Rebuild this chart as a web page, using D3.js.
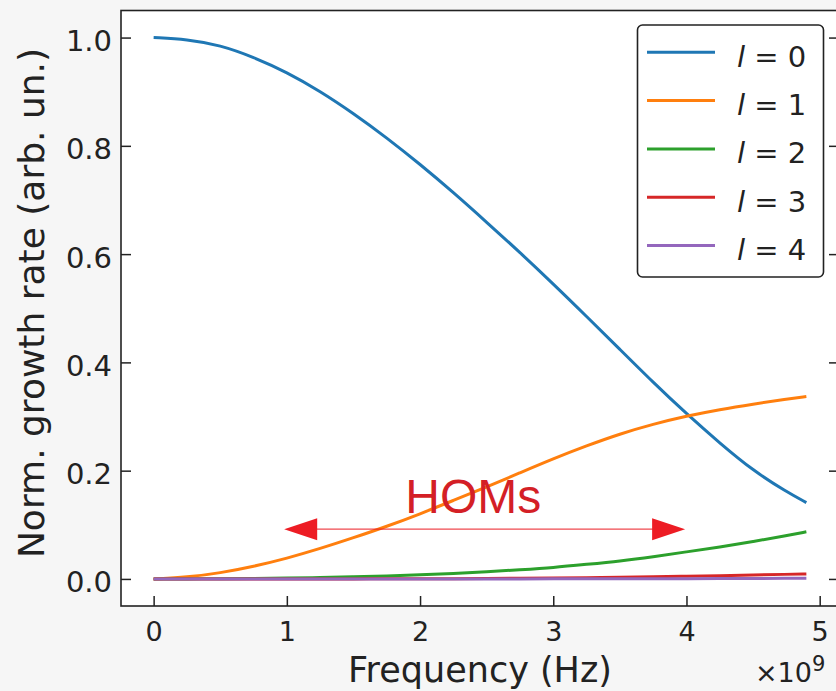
<html>
    <script src="https://d3js.org/d3.v7.min.js"></script>
    <body style="margin:0; background:#f6f6f6;">
    </body>
    <script>
        // frequency in units of 1e9 Hz
        const freq = [0, 0.25, 0.5, 0.75, 1, 1.25, 1.5, 1.75, 2, 2.25, 2.5, 2.75, 3, 3.25, 3.5, 3.75, 4, 4.25, 4.5, 4.75, 4.9];
        const l0 = [1.000, 0.997, 0.986, 0.964, 0.936, 0.901, 0.860, 0.815, 0.766, 0.714, 0.659, 0.603, 0.545, 0.485, 0.424, 0.363, 0.305, 0.251, 0.200, 0.161, 0.141];
        const l1 = [0, 0.003, 0.011, 0.023, 0.038, 0.056, 0.076, 0.097, 0.120, 0.145, 0.170, 0.196, 0.222, 0.246, 0.268, 0.286, 0.301, 0.313, 0.323, 0.332, 0.337];
        const l2 = [0, 0, 0.0003, 0.0008, 0.0015, 0.0025, 0.004, 0.0055, 0.0075, 0.010, 0.013, 0.017, 0.021, 0.027, 0.033, 0.041, 0.050, 0.059, 0.069, 0.080, 0.087];
        const l3 = [0, 0, 0, 0, 0, 0, 0.0001, 0.0002, 0.0003, 0.0005, 0.0008, 0.0012, 0.0017, 0.0023, 0.003, 0.0039, 0.005, 0.006, 0.0072, 0.0085, 0.0093];
        const l4 = [0, 0, 0, 0, 0, 0, 0, 0, 0, 0, 0, 0.0001, 0.0001, 0.0002, 0.0003, 0.0004, 0.0005, 0.0007, 0.0009, 0.0012, 0.0014];
        const modes = [0, 1, 2, 3, 4];
        const series = [l0, l1, l2, l3, l4];
        const xTicks = [0, 1, 2, 3, 4, 5];
        const yTicks = [0.0, 0.2, 0.4, 0.6, 0.8, 1.0];
        // HOMs annotation: arrow span and level
        const homSpan = [0.98, 3.99];
        const homLevel = 0.092;
        const homLabel = {text: "HOMs", x: 2.4, y: 0.122};

        const colors = ["#1f77b4", "#ff7f0e", "#2ca02c", "#d62728", "#9467bd"];
        let width = 836;
        let height = 691;
        let m = {left: 121, right: 839, top: 10.5, bottom: 606};

        let svg = d3.select("body").append("svg")
            .attr("width", width)
            .attr("height", height)
            .style("font-family", "'DejaVu Sans', sans-serif");

        svg.append("rect").attr("width", width).attr("height", height).attr("fill", "#f6f6f6");
        svg.append("rect")
            .attr("x", m.left).attr("y", m.top)
            .attr("width", m.right - m.left).attr("height", m.bottom - m.top)
            .attr("fill", "white");

        let x = d3.scaleLinear().domain([-0.245, 5.145]).range([m.left, m.right]);
        let y = d3.scaleLinear().domain([-0.05, 1.05]).range([m.bottom, m.top]);

        // axes, ticks pointing inward
        let gx = svg.append("g")
            .attr("transform", `translate(0,${m.bottom})`)
            .call(d3.axisBottom(x).tickValues(xTicks).tickFormat(d3.format("d")).tickSize(-10).tickPadding(16));
        let gy = svg.append("g")
            .attr("transform", `translate(${m.left},0)`)
            .call(d3.axisLeft(y).tickValues(yTicks).tickFormat(d3.format(".1f")).tickSize(-10).tickPadding(9));
        let gr = svg.append("g")
            .attr("transform", `translate(${m.right},0)`)
            .call(d3.axisRight(y).tickValues(yTicks).tickFormat("").tickSize(-10));
        [gx, gy, gr].forEach(g => {
            g.select(".domain").remove();
            g.selectAll("line").attr("stroke", "#222").attr("stroke-width", 1.5);
            g.selectAll("text").attr("fill", "#222").style("font-family", "'DejaVu Sans', sans-serif");
        });
        gx.selectAll("text").style("font-size", "27px");
        gy.selectAll("text").style("font-size", "29px").attr("dy", "0.45em");

        // curves
        let line = d3.line()
            .x((d, i) => x(freq[i]))
            .y(d => y(d))
            .curve(d3.curveBasis);
        svg.selectAll(".curve")
            .data(series)
            .join("path")
            .attr("class", "curve")
            .attr("d", line)
            .attr("fill", "none")
            .attr("stroke", (_, i) => colors[i])
            .attr("stroke-width", 3);

        // frame
        svg.append("rect")
            .attr("x", m.left).attr("y", m.top)
            .attr("width", m.right - m.left).attr("height", m.bottom - m.top)
            .attr("fill", "none")
            .attr("stroke", "#222")
            .attr("stroke-width", 1.6);

        // HOMs annotation
        let red = "#ed1c24";
        let ay = y(homLevel);
        let ax1 = x(homSpan[0]), ax2 = x(homSpan[1]);
        svg.append("line")
            .attr("x1", ax1 + 20).attr("x2", ax2 - 20)
            .attr("y1", ay).attr("y2", ay)
            .attr("stroke", red).attr("stroke-width", 1.2).attr("opacity", 0.8);
        svg.append("path")
            .attr("d", `M${ax1},${ay} L${ax1 + 33},${ay - 11} L${ax1 + 33},${ay + 11} Z`)
            .attr("fill", red);
        svg.append("path")
            .attr("d", `M${ax2},${ay} L${ax2 - 33},${ay - 11} L${ax2 - 33},${ay + 11} Z`)
            .attr("fill", red);
        svg.append("text")
            .attr("x", x(homLabel.x))
            .attr("y", y(homLabel.y))
            .attr("text-anchor", "middle")
            .attr("fill", "#d41f26")
            .style("font-family", "'Liberation Sans', Arial, sans-serif")
            .style("font-size", "48px")
            .text(homLabel.text);

        // legend
        let legend = svg.append("g");
        legend.append("rect")
            .attr("x", 637.5).attr("y", 25)
            .attr("width", 186).attr("height", 252)
            .attr("rx", 5)
            .attr("fill", "white")
            .attr("stroke", "#222")
            .attr("stroke-width", 1.6);
        let items = legend.selectAll(".item")
            .data(modes)
            .join("g")
            .attr("class", "item")
            .attr("transform", (d, i) => `translate(0,${52.3 + i * 48.3})`);
        items.append("line")
            .attr("x1", 647).attr("x2", 715)
            .attr("stroke", (d, i) => colors[i])
            .attr("stroke-width", 3);
        let lt = items.append("text")
            .attr("x", 737).attr("y", 14.5)
            .attr("fill", "#222")
            .style("font-size", "29px");
        lt.append("tspan").attr("font-style", "italic").text("l");
        lt.append("tspan").text(d => " = " + d);

        // axis labels
        svg.append("text")
            .attr("x", (m.left + m.right) / 2)
            .attr("y", 682)
            .attr("text-anchor", "middle")
            .attr("fill", "#222")
            .style("font-size", "35px")
            .text("Frequency (Hz)");
        svg.append("text")
            .attr("transform", "translate(44,303) rotate(-90)")
            .attr("text-anchor", "middle")
            .attr("fill", "#222")
            .style("font-size", "36px")
            .text("Norm. growth rate (arb. un.)");

        // offset text
        let off = svg.append("text")
            .attr("x", 755).attr("y", 682)
            .attr("fill", "#222")
            .style("font-size", "27px");
        off.append("tspan").text("\u00d710");
        off.append("tspan").attr("dy", -11).style("font-size", "21px").text("9");
    </script>
</html>
